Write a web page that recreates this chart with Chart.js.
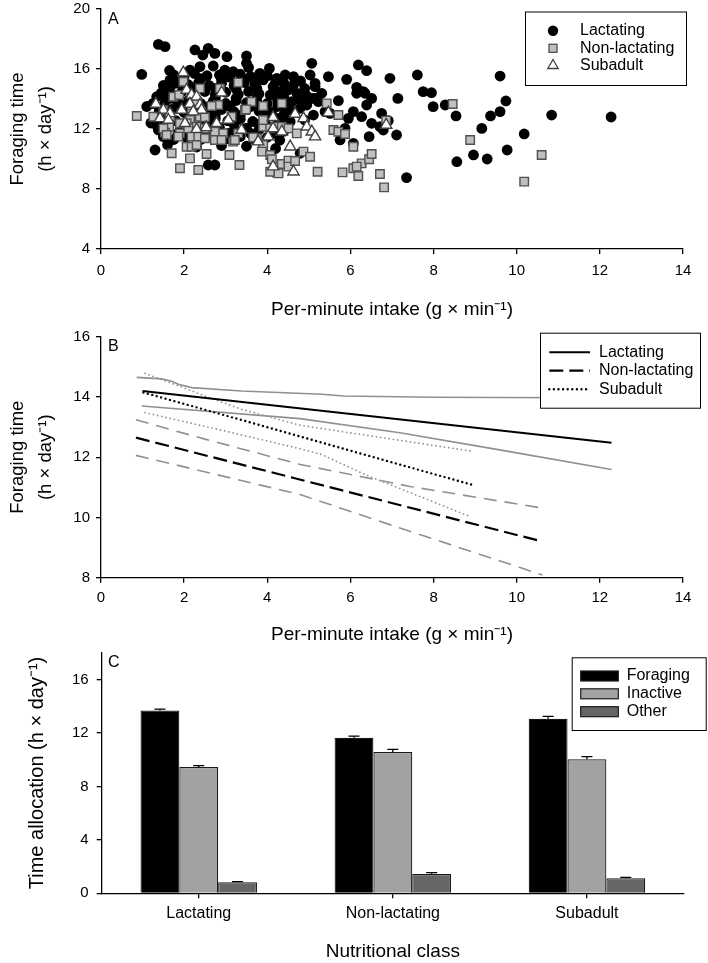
<!DOCTYPE html>
<html><head><meta charset="utf-8">
<script src="https://cdn.jsdelivr.net/npm/chart.js@4"></script>
<style>
html,body{margin:0;padding:0;background:#fff;}
#wrap{position:relative;width:708px;height:963px;}
canvas{position:absolute;left:0;top:0;}
</style></head><body>
<div id="wrap">
<canvas id="cA" width="708" height="963"></canvas>
<canvas id="cB" width="708" height="963"></canvas>
<canvas id="cC" width="708" height="963"></canvas>
</div>
<script>
// ---------- Panel A data: [per-minute intake, foraging time] ----------
const lactatingPts = [
[0.98,15.64],[1.38,17.64],[1.54,17.49],[2.26,17.27],[2.58,17.38],[2.74,17.04],[2.45,16.93],[3.03,16.82],[3.5,16.87],[3.5,16.38],[4.05,16.04],[2.38,16.16],[2.14,15.93],[2.98,15.93],[3.18,15.82],[2.7,16.2],[3.55,16.1],
[1.66,15.27],[1.75,15.6],[2.0,15.5],[2.25,15.7],[2.55,15.55],[2.85,15.6],[3.1,15.45],[3.35,15.65],[3.6,15.5],[3.82,15.71],[4.0,15.55],[3.9,15.27],[4.23,15.38],[4.43,15.6],[4.63,15.49],
[1.5,14.9],[1.8,15.05],[2.1,14.95],[2.35,15.1],[2.6,14.9],[2.9,15.05],[3.2,14.9],[3.45,15.1],[3.7,14.95],[4.14,14.82],[4.4,15.05],[4.63,14.93],[5.15,15.04],[5.15,14.82],
[1.34,14.15],[1.66,14.38],[1.95,14.5],[2.2,14.35],[2.5,14.5],[2.75,14.3],[3.0,14.45],[3.3,14.3],[3.55,14.5],[3.8,14.35],[4.07,14.27],[4.27,14.49],[4.5,14.6],[4.71,14.38],[5.31,14.38],[5.09,14.04],
[1.1,13.5],[1.25,13.7],[1.55,13.85],[1.85,13.75],[2.1,13.9],[2.4,13.7],[2.7,13.85],[3.0,13.7],[3.25,13.9],[3.5,13.75],[3.75,13.85],[4.0,13.7],[4.25,13.9],[4.59,13.82],[4.79,13.93],[5.23,13.82],[5.71,13.89],
[1.4,13.2],[1.7,13.3],[2.0,13.1],[2.3,13.25],[2.6,13.1],[2.9,13.3],[3.2,13.15],[3.5,13.3],[3.8,13.2],[4.1,13.1],[4.47,13.38],[4.63,13.16],[4.79,13.38],[5.11,12.93],[5.39,13.16],[5.51,13.04],
[1.2,12.4],[1.5,12.7],[1.8,12.55],[2.15,12.65],[2.45,12.5],[2.75,12.7],[3.05,12.55],[3.35,12.65],[3.65,12.5],[3.95,12.6],[4.25,12.7],[4.55,12.5],[4.9,12.6],
[1.38,11.93],[1.6,12.1],[1.9,11.9],[2.2,12.05],[2.55,11.95],[2.85,12.1],[3.2,11.9],[3.5,12.05],[3.8,11.95],[4.1,12.1],[4.4,11.85],
[1.5,11.49],[1.75,11.3],[2.05,11.45],[2.4,11.3],[2.7,11.5],[3.05,11.35],[3.35,11.5],[3.7,11.3],[4.0,11.45],[4.3,11.25],
[1.6,10.95],[2.3,10.8],[2.9,10.9],[3.5,10.85],[4.2,10.7],[1.3,10.6],[2.58,9.6],[2.74,9.6],[4.79,10.38],
[1.65,15.9],[1.9,15.3],[2.4,15.35],[2.9,15.3],[3.4,15.35],[3.75,15.2],[4.2,15.15],[4.8,15.2],
[1.65,14.65],[2.25,14.7],[2.75,14.7],[3.25,14.65],[3.75,14.7],[4.35,14.3],[4.9,14.7],
[1.45,14.4],[1.7,14.05],[2.25,14.05],[2.75,14.05],[3.25,14.05],[3.75,14.1],[4.4,14.1],[4.95,14.2],
[1.4,13.45],[1.95,13.5],[2.55,13.45],[3.1,13.5],[3.6,13.5],[4.25,13.5],[4.95,13.6],
[1.55,12.95],[2.15,12.9],[2.75,12.95],[3.35,12.9],[3.95,12.9],[4.4,12.95],
[1.35,12.2],[2.0,12.3],[2.6,12.3],[3.2,12.3],[3.8,12.3],[4.4,12.25],
[1.85,11.7],[2.45,11.7],[3.05,11.7],[3.6,11.7],[4.2,11.7],
[5.07,16.38],[5.03,15.6],[5.47,15.49],[5.91,15.31],[6.19,16.27],[6.39,15.89],[6.95,15.38],[7.61,15.6],[5.15,14.04],[6.15,14.78],[6.15,14.38],[6.35,14.38],[6.31,14.49],[6.51,14.04],[6.39,13.6],[7.14,14.04],[7.75,14.49],[7.95,14.42],[7.99,13.49],[8.28,13.6],[8.54,12.87],
[6.07,13.16],[6.27,12.82],[5.95,12.71],[6.75,13.04],[6.51,12.38],[6.71,12.15],[6.91,12.56],[6.79,11.93],[7.11,11.6],[6.45,11.49],[5.79,11.71],[5.75,11.27],[5.87,12.04],[6.07,11.04],
[7.35,8.76],[8.56,9.82],[8.96,10.27],[9.29,10.0],[9.16,12.04],[9.37,12.87],[9.6,13.16],[9.74,13.87],[9.6,15.53],[9.77,10.6],[10.18,11.67],[10.84,12.93],[12.27,12.8]
];
const nonLactatingPts = [
[0.86,12.87],[1.26,12.82],[1.74,14.15],[1.98,15.15],[1.88,14.27],[2.38,14.71],[2.86,14.71],[3.3,15.09],[2.82,13.6],[2.66,13.53],[2.46,12.82],[2.3,13.82],[2.18,13.04],[2.14,12.6],[2.3,12.15],[2.5,12.04],[2.22,11.82],[2.06,12.38],[3.14,12.82],[3.46,13.27],[3.62,13.82],[3.9,13.53],[4.35,13.71],
[3.3,11.71],[3.18,11.16],[2.74,11.82],[2.74,11.27],[2.94,11.71],[1.9,11.71],[1.86,11.49],[1.64,12.15],[1.54,11.76],[1.5,13.27],[1.66,12.82],[1.9,12.38],[1.5,12.04],[1.58,11.6],[2.1,12.04],[2.18,11.49],[2.06,10.82],[2.18,10.82],[2.34,11.49],[2.3,10.93],[2.5,11.38],[2.9,11.27],[3.22,11.27],[3.75,11.38],[3.9,11.04],[2.38,12.82],[2.5,12.78],[3.49,13.31],
[2.14,10.04],[1.9,9.38],[2.34,9.27],[1.7,10.38],[2.54,10.33],[3.09,10.27],[3.33,9.6],[3.66,11.44],[3.9,12.15],[4.07,12.04],[3.9,12.6],[4.19,12.15],[3.9,10.93],[3.87,10.49],[4.07,10.27],[4.11,9.98],[4.23,9.09],[4.07,9.15],[4.35,9.67],[4.51,9.89],[4.51,9.49],[4.67,9.87],[4.27,9.04],[4.87,10.49],[5.03,10.15],[4.35,12.15],[4.51,12.04],[4.71,11.71],
[5.21,9.15],[5.59,11.93],[5.71,11.82],[5.87,11.67],[5.71,12.93],[5.43,13.71],[6.07,10.82],[5.81,9.11],[6.07,9.38],[6.27,9.71],[6.45,9.98],[6.51,10.33],[6.19,8.87],[6.15,9.49],[6.71,9.0],[6.81,8.11],[6.86,12.56],[8.46,13.67],[8.88,11.27],[10.6,10.27],[10.18,8.49]
];
const subadultPts = [
[1.98,15.76],[2.06,14.6],[2.18,14.27],[2.3,14.15],[2.9,14.42],[1.32,13.67],[1.5,13.27],[1.42,12.71],[1.66,13.04],[1.62,12.6],[1.94,13.27],[2.14,13.67],[2.38,13.6],[2.42,13.27],[2.22,13.16],[2.02,12.38],[2.3,11.98],[2.53,12.11],[2.78,12.38],[3.06,12.6],[3.38,11.93],[3.78,11.16],
[4.14,12.78],[4.67,13.0],[4.87,12.71],[5.47,13.09],[4.14,12.04],[4.02,11.49],[4.35,11.82],[4.95,12.15],[5.07,11.82],[5.15,11.49],[4.55,10.82],[4.14,9.49],[4.63,9.15],[6.86,12.27]
];
const classNamesA = ['Lactating','Non-lactating','Subadult'];

// ---------- Panel B data: fitted lines and bands ----------
const lacFitX = [1.0, 12.28],              lacFitY = [14.2, 12.48];
const lacUpX  = [0.86,1.46,1.7,1.86,2.18,3.38,5.31,5.83,8.0,9.52,12.28];
const lacUpY  = [14.65,14.6,14.52,14.42,14.31,14.2,14.09,14.03,13.99,13.98,13.97];
const lacLoX  = [0.98,4.79,7.19,9.52,12.28], lacLoY = [13.7,13.28,12.81,12.26,11.59];
const nlFitX  = [0.84,10.62],              nlFitY = [12.65,9.2];
const nlUpX   = [0.84,2.5,4.79,7.43,10.62], nlUpY = [13.24,12.6,11.76,11.03,10.31];
const nlLoX   = [0.84,4.79,7.19,10.62],    nlLoY = [12.06,10.76,9.65,8.09];
const subFitX = [1.02,8.96],               subFitY = [14.15,11.07];
const subUpX  = [1.06,1.86,2.5,3.38,4.79,8.92], subUpY = [14.78,14.37,14.03,13.59,13.06,12.2];
const subLoX  = [1.06,2.98,4.79,5.31,6.39,8.88], subLoY = [13.48,12.87,12.28,12.09,11.4,10.03];

// ---------- Panel C data ----------
const classes    = ['Lactating','Non-lactating','Subadult'];
const foraging   = [13.68, 11.64, 13.06], foragingSE = [0.1, 0.12, 0.17];
const inactive   = [9.45, 10.57, 10.02],  inactiveSE = [0.1, 0.19, 0.2];
const other      = [0.82, 1.44, 1.12],    otherSE    = [0.06, 0.1, 0.07];
const activityNames = ['Foraging','Inactive','Other'];

const xTicksA = {min:0, max:14, step:2};
const yTicksA = {min:4, max:20, step:4};
const yTicksB = {min:8, max:16, step:2};
const yTicksC = {min:0, max:18, step:4};

// ---------- helpers ----------
const FAM = "'Liberation Sans', Arial, Helvetica, sans-serif";
Chart.defaults.font.family = FAM;
Chart.defaults.color = '#000';
const toXY = pts => pts.map(p => ({x:p[0], y:p[1]}));
const zip = (xs, ys) => xs.map((x,i) => ({x, y:ys[i]}));
const fixY = w => s => { s.width = w; s.paddingTop = 0; s.paddingBottom = 0; };
const fixX = h => s => { s.height = h; s.paddingLeft = 0; s.paddingRight = 0; };
const AX = '#000', AXW = 1.3;
function axisGrid(){ return {drawOnChartArea:false, drawTicks:true, tickLength:5, color:AX, lineWidth:AXW}; }

function linScale(t, tickPad, titleText, titlePad, fit, size, lh){
  return {
    type:'linear', min:t.min, max:t.max,
    ticks:{stepSize:t.step, padding:tickPad, font:{size:15}, color:'#000', includeBounds:false},
    grid:axisGrid(), border:{color:AX, width:AXW},
    title:{display:true, text:titleText, color:'#000', font:{size:size, lineHeight:lh}, padding:titlePad},
    afterFit:fit
  };
}

function drawLetter(ctx, t, x, y){
  ctx.save(); ctx.font = '16px '+FAM; ctx.fillStyle='#000'; ctx.textBaseline='middle'; ctx.textAlign='left';
  ctx.fillText(t, x, y); ctx.restore();
}
function legendBox(ctx, x, y, w, h){
  ctx.fillStyle='#fff'; ctx.fillRect(x,y,w,h);
  ctx.strokeStyle='#000'; ctx.lineWidth=1; ctx.strokeRect(x+0.5,y+0.5,w,h);
}
function legendText(ctx, t, x, y){
  ctx.font='16px '+FAM; ctx.fillStyle='#000'; ctx.textBaseline='middle'; ctx.textAlign='left';
  ctx.fillText(t, x, y);
}

const common = {responsive:false, animation:false, events:[], devicePixelRatio:1,
  plugins:{legend:{display:false}, tooltip:{enabled:false}}};

// ---------- Panel A ----------
new Chart(document.getElementById('cA'), {
  type:'scatter',
  data:{datasets:[
    {label:classNamesA[0], data:toXY(lactatingPts), pointStyle:'circle', pointRadius:5.4, backgroundColor:'#000', borderColor:'#000', borderWidth:0, order:3},
    {label:classNamesA[1], data:toXY(nonLactatingPts), pointStyle:'rect', pointRadius:6.0, backgroundColor:'#c0c0c0', borderColor:'#505050', borderWidth:1.4, order:2},
    {label:classNamesA[2], data:toXY(subadultPts), pointStyle:'triangle', pointRadius:6.5, backgroundColor:'#fff', borderColor:'#404040', borderWidth:1.4, order:1}
  ]},
  options:Object.assign({}, common, {
    layout:{padding:{top:9, left:0, right:25, bottom:963-249-75}},
    scales:{
      x: linScale(xTicksA, 8, 'Per-minute intake (g × min⁻¹)', {top:0,bottom:3.2}, fixX(75), 19, 1.2),
      y: linScale(yTicksA, 6, ['Foraging time','(h × day⁻¹)'], {top:4.5,bottom:0}, fixY(101), 18.5, 1.5)
    }
  }),
  plugins:[{id:'decorA', afterDraw(chart){
    const ctx = chart.ctx; ctx.save();
    drawLetter(ctx, 'A', 108, 20);
    legendBox(ctx, 525, 11.5, 161, 73.5);
    const rows = [30.7, 48.3, 65.5], sx = 553, tx = 580;
    ctx.fillStyle='#000'; ctx.beginPath(); ctx.arc(sx, rows[0], 5.2, 0, Math.PI*2); ctx.fill();
    ctx.fillStyle='#c0c0c0'; ctx.fillRect(sx-4, rows[1]-4, 8, 8);
    ctx.strokeStyle='#505050'; ctx.lineWidth=1.3; ctx.strokeRect(sx-4, rows[1]-4, 8, 8);
    ctx.beginPath(); ctx.moveTo(sx, rows[2]-6); ctx.lineTo(sx+5.2, rows[2]+3); ctx.lineTo(sx-5.2, rows[2]+3); ctx.closePath();
    ctx.fillStyle='#fff'; ctx.fill(); ctx.strokeStyle='#404040'; ctx.stroke();
    classNamesA.forEach((t,i)=>legendText(ctx, t, tx, rows[i]));
    ctx.restore();
  }}]
});

// ---------- Panel B ----------
const GRAY = '#909090';
function lineDs(data, color, width, dash, cap, order){
  return {data, showLine:true, pointRadius:0, borderColor:color, borderWidth:width, borderDash:dash, borderCapStyle:cap, tension:0, fill:false, order};
}
new Chart(document.getElementById('cB'), {
  type:'scatter',
  data:{datasets:[
    lineDs(zip(lacUpX, lacUpY), GRAY, 1.6, [], 'butt', 5),
    lineDs(zip(lacLoX, lacLoY), GRAY, 1.6, [], 'butt', 5),
    lineDs(zip(nlUpX, nlUpY), GRAY, 1.6, [13,8], 'butt', 5),
    lineDs(zip(nlLoX, nlLoY), GRAY, 1.6, [13,8], 'butt', 5),
    lineDs(zip(subUpX, subUpY), GRAY, 1.8, [0,4.3], 'round', 5),
    lineDs(zip(subLoX, subLoY), GRAY, 1.8, [0,4.3], 'round', 5),
    lineDs(zip(lacFitX, lacFitY), '#000', 2, [], 'butt', 1),
    lineDs(zip(nlFitX, nlFitY), '#000', 2.2, [14,6], 'butt', 1),
    lineDs(zip(subFitX, subFitY), '#000', 2.4, [0,4.6], 'round', 1)
  ]},
  options:Object.assign({}, common, {
    layout:{padding:{top:336.7, left:0, right:25, bottom:963-577.7-70}},
    scales:{
      x: linScale(xTicksA, 5.8, 'Per-minute intake (g × min⁻¹)', {top:0,bottom:1.9}, fixX(70), 19, 1.2),
      y: linScale(yTicksB, 6, ['Foraging time','(h × day⁻¹)'], {top:4.5,bottom:0}, fixY(101), 18.5, 1.5)
    }
  }),
  plugins:[{id:'decorB', afterDraw(chart){
    const ctx = chart.ctx; ctx.save();
    drawLetter(ctx, 'B', 108, 347);
    legendBox(ctx, 540, 332.7, 160, 75);
    const rows = [352.3, 370.7, 389.3], x0 = 549.3, x1 = 590, tx = 599;
    const styles = [{d:[],w:2,c:'butt'},{d:[14,6],w:2.2,c:'butt'},{d:[0,4.6],w:2.4,c:'round'}];
    styles.forEach((s,i)=>{ ctx.beginPath(); ctx.setLineDash(s.d); ctx.lineCap=s.c; ctx.lineWidth=s.w; ctx.strokeStyle='#000';
      ctx.moveTo(x0, rows[i]); ctx.lineTo(x1, rows[i]); ctx.stroke(); });
    ctx.setLineDash([]);
    classNamesA.forEach((t,i)=>legendText(ctx, t, tx, rows[i]));
    ctx.restore();
  }}]
});

// ---------- Panel C ----------
const barColors = ['#000000','#a2a2a2','#666666'];
const seList = [foragingSE, inactiveSE, otherSE];
function barDs(label, data, color){
  return {label, data, backgroundColor:color, borderColor:'#1a1a1a', borderWidth:1.2, barPercentage:1.0, categoryPercentage:0.6};
}
new Chart(document.getElementById('cC'), {
  type:'bar',
  data:{labels:classes, datasets:[
    barDs(activityNames[0], foraging, barColors[0]),
    barDs(activityNames[1], inactive, barColors[1]),
    barDs(activityNames[2], other, barColors[2])
  ]},
  options:Object.assign({}, common, {
    layout:{padding:{top:652.7, left:0, right:24, bottom:0}},
    scales:{
      x:{type:'category', offset:true,
        ticks:{padding:5.4, font:{size:16, lineHeight:1.2}, color:'#000'},
        grid:Object.assign(axisGrid(), {offset:false}), border:{color:AX, width:AXW},
        title:{display:true, text:'Nutritional class', color:'#000', font:{size:19, lineHeight:1.2}, padding:{top:0,bottom:0}},
        afterFit:fixX(69.7)},
      y: linScale(yTicksC, 8, 'Time allocation (h × day⁻¹)', {top:25.5,bottom:0}, fixY(101.7), 20, 1.2)
    }
  }),
  plugins:[{id:'decorC', afterDatasetsDraw(chart){
    const ctx = chart.ctx, ys = chart.scales.y; ctx.save();
    ctx.strokeStyle='#000'; ctx.lineWidth=1.3;
    chart.data.datasets.forEach((ds, di)=>{
      const meta = chart.getDatasetMeta(di);
      meta.data.forEach((el, j)=>{
        const yTop = ys.getPixelForValue(ds.data[j] + seList[di][j]);
        ctx.beginPath(); ctx.moveTo(el.x, el.y); ctx.lineTo(el.x, yTop);
        ctx.moveTo(el.x-5.5, yTop); ctx.lineTo(el.x+5.5, yTop); ctx.stroke();
      });
    });
    ctx.restore();
  }, afterDraw(chart){
    const ctx = chart.ctx; ctx.save();
    drawLetter(ctx, 'C', 108, 663);
    legendBox(ctx, 571.7, 657.3, 134, 72.7);
    const rows = [676, 693.8, 711.7];
    barColors.forEach((c,i)=>{ ctx.fillStyle=c; ctx.fillRect(580.7, rows[i]-5, 37.6, 10);
      ctx.strokeStyle='#1a1a1a'; ctx.lineWidth=1.2; ctx.strokeRect(580.7, rows[i]-5, 37.6, 10); });
    activityNames.forEach((t,i)=>legendText(ctx, t, 626.7, rows[i]));
    ctx.restore();
  }}]
});
</script>
</body></html>
